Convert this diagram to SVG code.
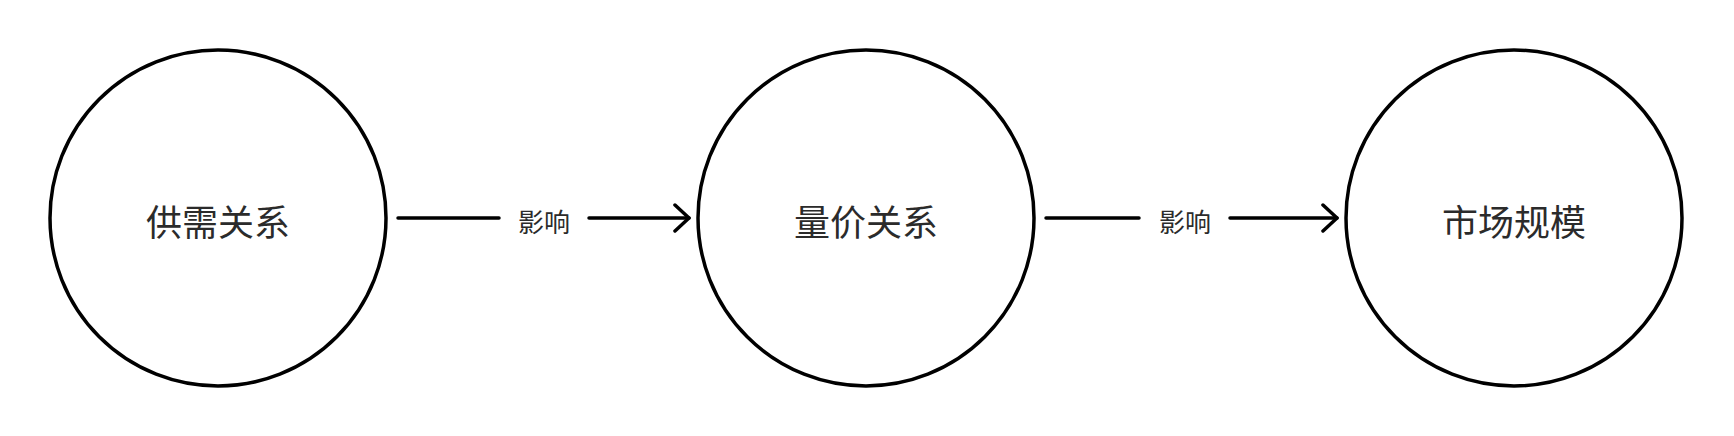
<svg xmlns="http://www.w3.org/2000/svg" width="1734" height="436" viewBox="0 0 1734 436">
<style>
.node{fill:#ffffff;stroke:#000000;stroke-width:3.5}
.ntext{font-family:"Noto Sans CJK SC","Noto Sans",sans-serif;font-size:36px;fill:#2b2b2b;text-anchor:middle;dominant-baseline:central}
.edge{stroke:#000000;stroke-width:3.5;fill:none;stroke-linecap:round}
.elabel{font-family:"Noto Sans CJK SC","Noto Sans",sans-serif;font-size:26px;fill:#2b2b2b;text-anchor:middle;dominant-baseline:central}
</style>
<defs>
<marker id="arrow" viewBox="0 0 20 30" refX="17" refY="15" markerWidth="20" markerHeight="30" markerUnits="userSpaceOnUse" orient="auto">
<path d="M3,2 L17,15 L3,28" fill="none" stroke="#000000" stroke-width="3.5" stroke-linecap="round" stroke-linejoin="round"/>
</marker>
</defs>
<rect width="1734" height="436" fill="#ffffff"/>
<g id="connectors">
<g id="edge1">
<line class="edge" x1="398" y1="218" x2="499" y2="218"/>
<line class="edge" x1="589" y1="218" x2="689" y2="218" marker-end="url(#arrow)"/>
<text class="elabel" x="544" y="220">影响</text>
</g>
<g id="edge2">
<line class="edge" x1="1046" y1="218" x2="1139" y2="218"/>
<line class="edge" x1="1230" y1="218" x2="1337" y2="218" marker-end="url(#arrow)"/>
<text class="elabel" x="1185" y="220">影响</text>
</g>
</g>
<g id="node1">
<circle class="node" cx="218" cy="218" r="168"/>
<text class="ntext" x="218" y="220">供需关系</text>
</g>
<g id="node2">
<circle class="node" cx="866" cy="218" r="168"/>
<text class="ntext" x="866" y="220">量价关系</text>
</g>
<g id="node3">
<circle class="node" cx="1514" cy="218" r="168"/>
<text class="ntext" x="1514" y="220">市场规模</text>
</g>
</svg>
